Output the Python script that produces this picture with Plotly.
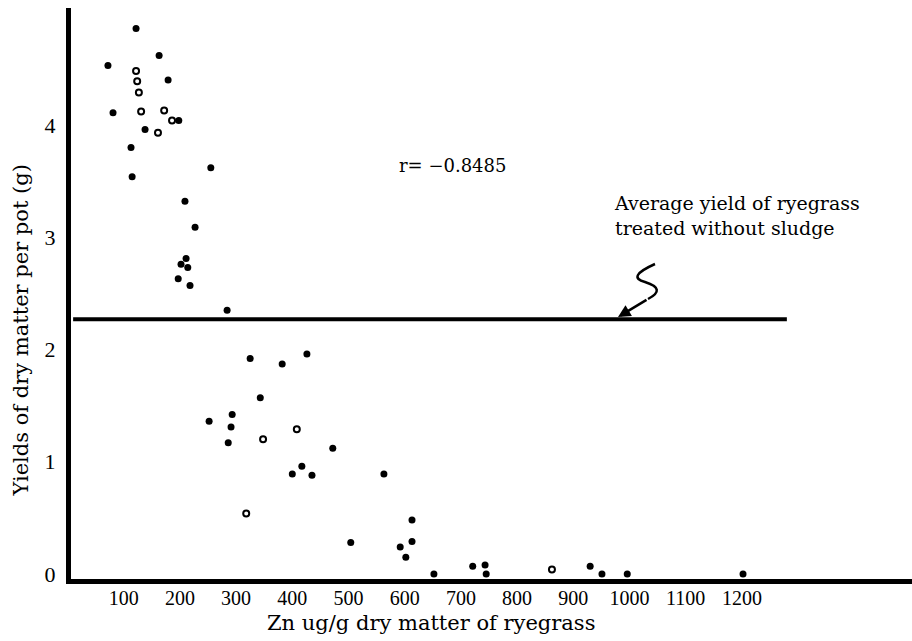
import plotly.graph_objects as go

# ---- data ----
zn_filled = [122, 163, 72, 179, 81, 198, 138, 113, 115, 255, 209, 227, 211, 202, 214, 197, 218, 284,
             325, 382, 426, 343, 252, 293, 291, 286, 472, 417, 400, 435, 563, 613, 504, 613, 592, 602,
             721, 743, 652, 745, 930, 951, 996, 1202]
yield_filled = [4.86, 4.62, 4.53, 4.40, 4.11, 4.04, 3.96, 3.80, 3.54, 3.62, 3.32, 3.09, 2.81, 2.76, 2.73, 2.63, 2.57, 2.35,
                1.92, 1.87, 1.96, 1.57, 1.36, 1.42, 1.31, 1.17, 1.12, 0.96, 0.89, 0.88, 0.89, 0.48, 0.28, 0.29, 0.24, 0.15,
                0.07, 0.08, 0.00, 0.00, 0.07, 0.00, 0.00, 0.00]
zn_open = [122, 124, 127, 131, 172, 186, 161, 348, 408, 318, 862]
yield_open = [4.48, 4.39, 4.29, 4.12, 4.13, 4.04, 3.93, 1.20, 1.29, 0.54, 0.04]

avg_yield = 2.27
avg_line_zn = [10, 1280]

x_ticks = [100, 200, 300, 400, 500, 600, 700, 800, 900, 1000, 1100, 1200]
y_ticks = [0, 1, 2, 3, 4]

r_text = "r= \u22120.8485"
avg_text = "Average yield of ryegrass<br>treated without sludge"
x_title = "Zn ug/g dry matter of ryegrass"
y_title = "Yields of dry matter per pot (g)"

FONT = "DejaVu Serif"
TICKFONT = "Liberation Serif"

# pixel helpers for decoration placement
def px2x(px):
    return (px - 67.5) / 0.562

def py2y(py):
    return (574 - py) / 112.25

fig = go.Figure()

fig.add_trace(go.Scatter(x=avg_line_zn, y=[avg_yield, avg_yield], mode="lines",
                         line=dict(color="black", width=4), hoverinfo="skip", showlegend=False))

fig.add_trace(go.Scatter(x=zn_filled, y=yield_filled, mode="markers",
                         marker=dict(color="black", size=7, line=dict(width=0)), showlegend=False))
fig.add_trace(go.Scatter(x=zn_open, y=yield_open, mode="markers",
                         marker=dict(color="white", size=6, line=dict(color="black", width=2)), showlegend=False))

# hand-drawn squiggle arrow
pts = [(655, 264), (626, 277), (645, 282), (667, 289), (648, 299)]
path = (f"M {px2x(pts[0][0])},{py2y(pts[0][1])} "
        f"Q {px2x(pts[1][0])},{py2y(pts[1][1])} {px2x(pts[2][0])},{py2y(pts[2][1])} "
        f"Q {px2x(pts[3][0])},{py2y(pts[3][1])} {px2x(pts[4][0])},{py2y(pts[4][1])}")
fig.add_shape(type="path", path=path, xref="x", yref="y", line=dict(color="black", width=2.5))

fig.add_annotation(x=px2x(618), y=py2y(317), ax=30, ay=-18, xref="x", yref="y",
                   showarrow=True, arrowhead=2, arrowsize=1, arrowwidth=2.5, arrowcolor="black", text="")

fig.add_annotation(x=px2x(397), y=py2y(165), xref="x", yref="y", text=r_text, showarrow=False,
                   xanchor="left", yanchor="middle", font=dict(family=FONT, size=18, color="black"))
fig.add_annotation(x=px2x(612), y=py2y(215), xref="x", yref="y", text=avg_text, showarrow=False,
                   xanchor="left", yanchor="middle", align="left",
                   font=dict(family=FONT, size=19, color="black"))

fig.add_annotation(x=px2x(431), y=-0.053, xref="x", yref="paper", text=x_title, showarrow=False,
                   xanchor="center", yanchor="top", font=dict(family=FONT, size=21, color="black"))
fig.add_annotation(x=-0.06, y=py2y(331), xref="paper", yref="y", text=y_title, showarrow=False,
                   textangle=-90, xanchor="center", yanchor="middle",
                   font=dict(family=FONT, size=21, color="black"))

fig.update_xaxes(range=[px2x(71), px2x(912)], tickvals=x_ticks, showgrid=False, zeroline=False,
                 showline=True, linecolor="black", linewidth=5,
                 ticks="", ticklabelstandoff=-3,
                 tickfont=dict(family=TICKFONT, size=20, color="black"))
fig.update_yaxes(range=[py2y(579), py2y(8)], tickvals=y_ticks, showgrid=False, zeroline=False,
                 showline=True, linecolor="black", linewidth=5,
                 ticks="outside", ticklen=6, tickcolor="rgba(0,0,0,0)",
                 tickfont=dict(family=TICKFONT, size=22, color="black"))

fig.update_layout(width=912, height=641, margin=dict(l=71, r=0, t=8, b=62),
                  plot_bgcolor="white", paper_bgcolor="white")

fig.write_html("out.html")
